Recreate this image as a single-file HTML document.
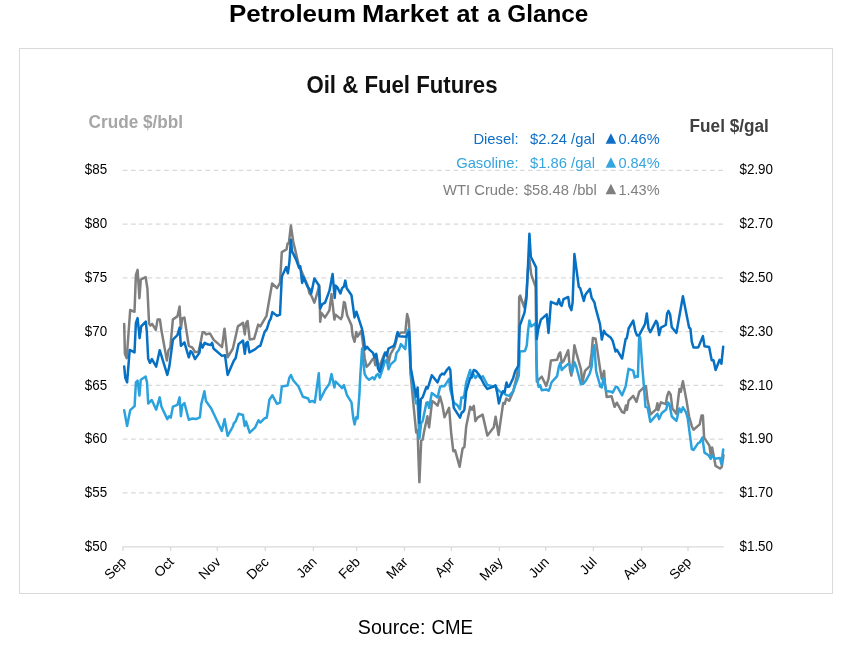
<!DOCTYPE html>
<html><head><meta charset="utf-8"><title>Petroleum Market at a Glance</title>
<style>
html,body{margin:0;padding:0;background:#fff;}
body{width:853px;height:646px;overflow:hidden;position:relative;font-family:"Liberation Sans",sans-serif;}
svg{position:absolute;left:0;top:0;display:block;will-change:transform}
text{font-family:"Liberation Sans",sans-serif;}
</style></head><body>
<svg width="853" height="646" viewBox="0 0 853 646">
<rect x="0" y="0" width="853" height="646" fill="#ffffff"/>
<text x="229.0" y="21.9" font-weight="bold" font-size="24.4" fill="#000" textLength="127.0" lengthAdjust="spacingAndGlyphs">Petroleum</text>
<text x="362.0" y="21.9" font-weight="bold" font-size="24.4" fill="#000" textLength="86.6" lengthAdjust="spacingAndGlyphs">Market</text>
<text x="456.4" y="21.9" font-weight="bold" font-size="24.4" fill="#000" textLength="22.4" lengthAdjust="spacingAndGlyphs">at</text>
<text x="487.2" y="21.9" font-weight="bold" font-size="24.4" fill="#000" textLength="13.0" lengthAdjust="spacingAndGlyphs">a</text>
<text x="507.2" y="21.9" font-weight="bold" font-size="24.4" fill="#000" textLength="81.2" lengthAdjust="spacingAndGlyphs">Glance</text>
<rect x="19.5" y="48.5" width="813" height="545" fill="#fff" stroke="#d9d9d9" stroke-width="1"/>
<text transform="translate(402.00,93.40) scale(1,1.1)" font-size="22.2" font-weight="bold" text-anchor="middle" fill="#111">Oil &amp; Fuel Futures</text>
<text transform="translate(88.60,128.30) scale(1,1.04)" font-size="17.2" font-weight="bold" fill="#a6a6a6">Crude $/bbl</text>
<text transform="translate(689.60,131.60) scale(1,1.05)" font-size="17.2" font-weight="bold" fill="#404040">Fuel $/gal</text>
<line x1="122.7" x2="723.1" y1="170.31" y2="170.31" stroke="#d9d9d9" stroke-width="1.3" stroke-dasharray="4.8 3.471"/>
<line x1="122.7" x2="723.1" y1="224.08" y2="224.08" stroke="#d9d9d9" stroke-width="1.3" stroke-dasharray="4.8 3.471"/>
<line x1="122.7" x2="723.1" y1="277.85" y2="277.85" stroke="#d9d9d9" stroke-width="1.3" stroke-dasharray="4.8 3.471"/>
<line x1="122.7" x2="723.1" y1="331.62" y2="331.62" stroke="#d9d9d9" stroke-width="1.3" stroke-dasharray="4.8 3.471"/>
<line x1="122.7" x2="723.1" y1="385.39" y2="385.39" stroke="#d9d9d9" stroke-width="1.3" stroke-dasharray="4.8 3.471"/>
<line x1="122.7" x2="723.1" y1="439.16" y2="439.16" stroke="#d9d9d9" stroke-width="1.3" stroke-dasharray="4.8 3.471"/>
<line x1="122.7" x2="723.1" y1="492.93" y2="492.93" stroke="#d9d9d9" stroke-width="1.3" stroke-dasharray="4.8 3.471"/>
<line x1="122.4" x2="723.6" y1="546.9" y2="546.9" stroke="#d9d9d9" stroke-width="1.3"/>
<line x1="123" x2="123" y1="546.9" y2="551" stroke="#d9d9d9" stroke-width="1.3"/>
<line x1="170.6" x2="170.6" y1="546.9" y2="551" stroke="#d9d9d9" stroke-width="1.3"/>
<line x1="217.3" x2="217.3" y1="546.9" y2="551" stroke="#d9d9d9" stroke-width="1.3"/>
<line x1="265.3" x2="265.3" y1="546.9" y2="551" stroke="#d9d9d9" stroke-width="1.3"/>
<line x1="313.4" x2="313.4" y1="546.9" y2="551" stroke="#d9d9d9" stroke-width="1.3"/>
<line x1="356.6" x2="356.6" y1="546.9" y2="551" stroke="#d9d9d9" stroke-width="1.3"/>
<line x1="404.5" x2="404.5" y1="546.9" y2="551" stroke="#d9d9d9" stroke-width="1.3"/>
<line x1="451.4" x2="451.4" y1="546.9" y2="551" stroke="#d9d9d9" stroke-width="1.3"/>
<line x1="499.4" x2="499.4" y1="546.9" y2="551" stroke="#d9d9d9" stroke-width="1.3"/>
<line x1="545.6" x2="545.6" y1="546.9" y2="551" stroke="#d9d9d9" stroke-width="1.3"/>
<line x1="593.4" x2="593.4" y1="546.9" y2="551" stroke="#d9d9d9" stroke-width="1.3"/>
<line x1="641.6" x2="641.6" y1="546.9" y2="551" stroke="#d9d9d9" stroke-width="1.3"/>
<line x1="688" x2="688" y1="546.9" y2="551" stroke="#d9d9d9" stroke-width="1.3"/>
<text transform="translate(84.80,173.68) scale(1,1.1)" font-size="13.4" fill="#000">$85</text>
<text transform="translate(739.50,173.68) scale(1,1.1)" font-size="13.4" fill="#000">$2.90</text>
<text transform="translate(84.80,227.64) scale(1,1.1)" font-size="13.4" fill="#000">$80</text>
<text transform="translate(739.50,227.64) scale(1,1.1)" font-size="13.4" fill="#000">$2.70</text>
<text transform="translate(84.80,281.60) scale(1,1.1)" font-size="13.4" fill="#000">$75</text>
<text transform="translate(739.50,281.60) scale(1,1.1)" font-size="13.4" fill="#000">$2.50</text>
<text transform="translate(84.80,335.56) scale(1,1.1)" font-size="13.4" fill="#000">$70</text>
<text transform="translate(739.50,335.56) scale(1,1.1)" font-size="13.4" fill="#000">$2.30</text>
<text transform="translate(84.80,389.52) scale(1,1.1)" font-size="13.4" fill="#000">$65</text>
<text transform="translate(739.50,389.52) scale(1,1.1)" font-size="13.4" fill="#000">$2.10</text>
<text transform="translate(84.80,443.48) scale(1,1.1)" font-size="13.4" fill="#000">$60</text>
<text transform="translate(739.50,443.48) scale(1,1.1)" font-size="13.4" fill="#000">$1.90</text>
<text transform="translate(84.80,497.44) scale(1,1.1)" font-size="13.4" fill="#000">$55</text>
<text transform="translate(739.50,497.44) scale(1,1.1)" font-size="13.4" fill="#000">$1.70</text>
<text transform="translate(84.80,551.40) scale(1,1.1)" font-size="13.4" fill="#000">$50</text>
<text transform="translate(739.50,551.40) scale(1,1.1)" font-size="13.4" fill="#000">$1.50</text>
<text transform="translate(127.20,562.80) scale(1,1.0) rotate(-45.5)" font-size="13.8" text-anchor="end" fill="#000">Sep</text>
<text transform="translate(174.80,562.80) scale(1,1.0) rotate(-45.5)" font-size="13.8" text-anchor="end" fill="#000">Oct</text>
<text transform="translate(221.50,562.80) scale(1,1.0) rotate(-45.5)" font-size="13.8" text-anchor="end" fill="#000">Nov</text>
<text transform="translate(269.50,562.80) scale(1,1.0) rotate(-45.5)" font-size="13.8" text-anchor="end" fill="#000">Dec</text>
<text transform="translate(317.60,562.80) scale(1,1.0) rotate(-45.5)" font-size="13.8" text-anchor="end" fill="#000">Jan</text>
<text transform="translate(360.80,562.80) scale(1,1.0) rotate(-45.5)" font-size="13.8" text-anchor="end" fill="#000">Feb</text>
<text transform="translate(408.70,562.80) scale(1,1.0) rotate(-45.5)" font-size="13.8" text-anchor="end" fill="#000">Mar</text>
<text transform="translate(455.60,562.80) scale(1,1.0) rotate(-45.5)" font-size="13.8" text-anchor="end" fill="#000">Apr</text>
<text transform="translate(503.60,562.80) scale(1,1.0) rotate(-45.5)" font-size="13.8" text-anchor="end" fill="#000">May</text>
<text transform="translate(549.80,562.80) scale(1,1.0) rotate(-45.5)" font-size="13.8" text-anchor="end" fill="#000">Jun</text>
<text transform="translate(597.60,562.80) scale(1,1.0) rotate(-45.5)" font-size="13.8" text-anchor="end" fill="#000">Jul</text>
<text transform="translate(645.80,562.80) scale(1,1.0) rotate(-45.5)" font-size="13.8" text-anchor="end" fill="#000">Aug</text>
<text transform="translate(692.20,562.80) scale(1,1.0) rotate(-45.5)" font-size="13.8" text-anchor="end" fill="#000">Sep</text>
<text transform="translate(518.60,144.00) scale(1,0.985)" font-size="14.8" text-anchor="end" fill="#0f6fc6">Diesel:</text>
<text transform="translate(530.00,144.00) scale(1,0.985)" font-size="14.8" fill="#0f6fc6">$2.24 /gal</text>
<text transform="translate(618.40,144.00) scale(1,1.0)" font-size="14.55" fill="#0f6fc6">0.46%</text>
<path d="M605.6,143.8 L616.2,143.8 L610.9,133.2 Z" fill="#0f6fc6"/>
<text transform="translate(518.60,168.00) scale(1,0.985)" font-size="14.8" text-anchor="end" fill="#35a5dd">Gasoline:</text>
<text transform="translate(530.00,168.00) scale(1,0.985)" font-size="14.8" fill="#35a5dd">$1.86 /gal</text>
<text transform="translate(618.40,168.00) scale(1,1.0)" font-size="14.55" fill="#35a5dd">0.84%</text>
<path d="M605.6,167.8 L616.2,167.8 L610.9,157.2 Z" fill="#35a5dd"/>
<text transform="translate(518.60,194.50) scale(1,0.985)" font-size="14.8" text-anchor="end" fill="#7f7f7f">WTI Crude:</text>
<text transform="translate(523.70,194.50) scale(1,0.985)" font-size="14.8" fill="#7f7f7f">$58.48 /bbl</text>
<text transform="translate(618.40,194.50) scale(1,1.0)" font-size="14.55" fill="#7f7f7f">1.43%</text>
<path d="M605.6,194.3 L616.2,194.3 L610.9,183.7 Z" fill="#7f7f7f"/>
<g fill="none" stroke-linejoin="round" stroke-linecap="round" stroke-width="2.5">
<path d="M124.2,324.1 L124.9,353.8 L126.7,358.2 L130.2,310.0 L134.5,311.8 L135.9,275.2 L137.6,269.9 L139.4,298.2 L140.8,279.6 L145.6,277.0 L147.4,288.5 L149.1,323.8 L150.4,325.5 L152.1,323.8 L155.8,329.9 L157.6,319.4 L159.9,319.4 L161.5,330.8 L166.9,360.5 L168.5,350.2 L170.3,347.6 L172.9,319.4 L177.4,316.4 L179.6,306.5 L180.9,329.1 L182.1,318.5 L184.4,317.6 L188.8,345.8 L192.4,347.6 L195.0,352.0 L198.5,352.0 L200.3,344.1 L202.6,332.2 L204.4,332.2 L206.1,334.4 L210.0,333.5 L213.5,339.6 L222.0,347.1 L224.5,328.7 L227.6,357.3 L232.9,348.5 L237.9,326.4 L243.0,322.9 L244.8,334.4 L246.2,322.9 L247.6,321.1 L249.7,339.6 L254.1,338.8 L258.2,324.6 L260.3,326.4 L266.5,315.8 L272.1,283.5 L277.0,288.2 L280.0,282.9 L281.8,252.1 L286.5,249.4 L287.6,243.6 L288.8,243.6 L290.9,225.6 L293.2,241.5 L295.9,252.9 L298.5,264.4 L301.2,270.6 L303.8,276.8 L307.4,284.7 L309.5,293.5 L311.2,295.3 L314.4,302.7 L317.9,290.9 L319.4,285.6 L320.2,321.8 L321.5,312.9 L325.0,317.4 L329.4,310.3 L331.5,294.1 L334.4,319.6 L335.6,314.7 L340.9,319.1 L342.1,316.5 L343.9,302.0 L344.9,302.7 L347.1,315.2 L351.5,325.3 L352.7,336.2 L354.6,341.8 L356.2,332.1 L357.6,336.5 L361.2,330.9 L362.6,340.6 L364.7,358.2 L366.5,366.7 L369.1,364.4 L372.6,359.1 L374.1,358.2 L375.3,365.3 L376.5,355.6 L378.8,367.9 L380.6,363.5 L384.1,354.7 L386.8,352.1 L388.5,363.5 L390.6,353.8 L394.7,346.8 L397.4,336.2 L400.9,332.6 L405.3,332.6 L407.1,314.1 L408.8,320.3 L410.1,345.9 L410.6,374.1 L413.2,401.8 L416.2,432.6 L417.6,430.0 L418.5,458.2 L419.4,482.1 L421.2,440.6 L422.6,439.7 L424.4,430.0 L427.4,416.2 L429.1,427.4 L432.1,400.9 L434.4,402.6 L437.6,405.6 L440.1,396.5 L442.4,405.3 L444.5,417.3 L449.1,407.9 L451.2,433.5 L453.3,451.2 L455.1,450.3 L459.6,466.7 L462.6,448.5 L464.4,446.8 L466.2,426.5 L470.2,406.7 L472.0,409.7 L473.8,405.8 L475.4,421.2 L477.6,417.6 L482.6,414.6 L487.4,435.6 L493.8,427.3 L495.6,416.7 L498.6,435.1 L500.9,418.8 L503.2,402.9 L504.8,403.8 L506.2,398.5 L509.2,400.8 L513.2,391.5 L515.9,380.0 L517.1,375.3 L518.5,362.9 L519.2,297.4 L520.2,295.6 L524.1,307.1 L526.4,295.6 L528.0,269.1 L529.4,259.4 L531.2,274.4 L535.6,286.8 L536.8,381.5 L539.5,378.8 L541.8,376.7 L546.2,385.9 L548.5,378.8 L550.9,360.6 L557.1,359.8 L558.9,354.1 L560.3,352.4 L561.7,362.9 L563.5,361.2 L568.2,350.2 L570.0,370.0 L571.4,375.6 L573.0,361.2 L574.4,345.3 L576.2,352.4 L580.9,369.1 L582.4,382.4 L585.0,370.9 L589.8,366.1 L591.7,352.4 L592.9,337.9 L595.6,338.8 L597.4,350.6 L600.0,368.2 L601.8,378.8 L604.1,370.9 L604.9,382.9 L606.7,397.1 L611.5,396.2 L614.6,406.8 L616.8,402.7 L622.1,412.1 L624.2,412.9 L625.9,405.5 L627.0,409.9 L628.6,400.6 L633.2,395.8 L636.5,401.8 L639.2,391.8 L643.8,387.4 L645.9,386.1 L647.6,400.6 L650.6,414.4 L656.1,409.4 L657.4,403.2 L658.2,410.3 L660.9,402.4 L665.8,404.1 L667.1,396.2 L668.8,391.8 L670.6,394.4 L672.4,408.5 L676.4,413.8 L679.4,389.1 L680.8,391.8 L682.9,381.2 L686.5,400.6 L689.1,416.5 L691.8,426.2 L693.5,429.7 L699.7,424.4 L701.5,415.6 L702.9,415.6 L704.1,437.6 L709.4,445.6 L710.8,455.3 L712.1,447.4 L713.8,456.2 L715.6,465.9 L720.0,468.5 L721.8,466.8 L723.5,455.3" stroke="#7f7f7f"/>
<path d="M124.2,410.2 L127.1,425.9 L130.2,410.2 L134.6,406.2 L135.9,382.4 L137.6,380.6 L139.4,395.6 L140.8,379.7 L145.6,376.5 L147.0,382.4 L148.2,403.5 L151.8,400.0 L156.2,409.7 L159.7,397.4 L161.5,406.7 L167.3,419.1 L169.1,416.2 L170.8,417.6 L172.9,406.7 L177.4,404.9 L179.6,397.4 L180.9,416.2 L182.3,405.3 L184.4,403.0 L188.8,419.8 L192.4,418.5 L195.9,419.1 L199.9,417.3 L201.2,404.4 L204.4,391.2 L205.9,400.9 L210.9,407.9 L213.5,413.2 L221.8,430.9 L224.6,419.1 L227.6,435.8 L232.9,426.5 L233.8,423.3 L235.6,421.5 L238.6,413.8 L243.0,415.0 L244.6,425.9 L246.0,421.5 L249.7,432.6 L255.0,427.7 L258.5,420.3 L260.3,422.6 L264.7,418.2 L266.8,417.6 L269.4,399.7 L272.4,395.3 L277.0,403.8 L280.0,402.7 L281.8,386.5 L287.6,385.6 L289.4,377.6 L290.9,375.0 L293.2,380.3 L298.5,386.5 L302.9,396.7 L308.2,398.5 L309.6,402.0 L312.3,400.9 L314.8,402.4 L318.8,373.2 L320.2,399.7 L325.0,390.0 L329.4,383.8 L331.5,374.1 L334.4,387.4 L335.6,381.5 L342.1,388.2 L343.9,385.1 L347.1,395.3 L351.5,402.4 L351.5,402.6 L353.2,417.6 L354.6,424.4 L356.2,417.3 L357.6,418.5 L359.4,394.7 L360.3,375.9 L362.1,348.5 L363.3,361.8 L364.7,374.1 L366.5,377.3 L369.1,379.8 L372.6,377.3 L374.4,379.4 L376.5,375.0 L377.9,374.1 L379.7,377.6 L382.4,369.7 L385.0,360.9 L386.8,360.0 L388.5,369.2 L390.6,364.4 L395.1,360.4 L396.5,352.9 L399.1,349.4 L400.9,344.1 L405.3,349.1 L407.1,332.6 L408.8,329.1 L409.7,352.9 L410.6,372.4 L413.2,387.6 L416.2,403.5 L417.6,401.8 L419.4,438.5 L421.2,422.9 L422.6,421.2 L426.5,402.6 L427.7,402.3 L429.1,407.9 L431.8,392.9 L437.6,397.4 L440.1,386.8 L442.4,385.9 L444.5,386.2 L449.1,378.8 L450.3,389.4 L453.8,402.6 L457.4,405.3 L460.0,409.2 L461.4,397.4 L463.0,397.9 L464.4,394.7 L466.2,382.4 L470.2,370.0 L471.5,377.9 L473.2,373.9 L475.4,377.9 L477.6,375.3 L480.3,377.9 L482.9,376.2 L487.4,385.0 L492.4,386.2 L495.5,385.9 L497.6,389.4 L501.2,392.6 L503.8,392.9 L505.6,394.7 L509.1,395.9 L513.2,391.2 L515.3,385.0 L517.1,380.6 L518.8,375.3 L519.7,351.5 L525.0,350.9 L526.8,345.3 L528.0,331.2 L529.4,320.6 L531.2,326.4 L535.6,323.2 L536.5,362.9 L537.4,380.6 L538.7,386.9 L540.3,385.3 L541.7,390.2 L546.2,389.4 L548.5,390.8 L549.7,388.5 L551.5,382.4 L557.1,376.2 L558.9,366.5 L560.3,362.9 L561.7,370.0 L563.5,368.2 L568.2,363.8 L570.0,365.1 L572.1,372.6 L574.4,362.1 L576.2,366.5 L578.8,376.2 L580.9,384.1 L583.2,384.1 L585.9,380.6 L589.8,373.5 L591.7,366.5 L592.9,351.5 L594.4,345.3 L596.1,370.9 L597.4,376.2 L600.0,385.0 L600.0,386.5 L601.8,387.4 L603.5,378.0 L606.2,390.9 L611.5,391.8 L612.7,392.6 L615.9,386.5 L617.6,387.4 L622.1,395.3 L625.6,386.5 L626.8,379.4 L628.6,368.8 L633.2,370.6 L634.8,377.6 L636.5,376.2 L637.9,376.8 L639.2,336.5 L640.2,337.4 L642.4,368.2 L643.2,377.6 L645.5,406.8 L647.6,407.6 L650.3,421.8 L657.4,413.8 L659.1,419.1 L661.8,412.9 L666.2,409.4 L667.9,402.4 L669.4,404.1 L671.8,416.5 L676.4,420.9 L679.4,408.5 L681.2,412.1 L682.9,407.3 L685.9,412.1 L687.7,418.2 L689.1,428.8 L691.8,449.1 L693.5,450.0 L698.3,442.9 L699.7,442.6 L702.4,437.6 L704.5,452.6 L708.5,455.3 L710.8,458.8 L712.1,455.3 L714.7,458.8 L720.0,457.9 L721.4,464.1 L723.2,449.5" stroke="#2ba2dd"/>
<path d="M124.2,366.5 L125.3,377.9 L127.1,382.4 L129.7,349.9 L134.5,352.4 L135.9,322.9 L137.6,318.1 L139.6,338.2 L141.2,326.4 L145.8,321.6 L146.8,331.7 L148.2,358.7 L150.0,362.9 L151.9,359.1 L156.2,366.6 L159.7,350.2 L167.3,374.9 L169.4,366.1 L172.9,339.6 L177.4,335.2 L179.6,327.6 L180.9,345.8 L184.4,342.3 L188.8,357.3 L190.6,351.1 L192.4,352.9 L195.0,359.1 L199.4,352.9 L200.8,343.2 L202.6,347.6 L204.7,342.8 L208.2,344.6 L210.9,344.9 L212.1,342.8 L213.5,348.5 L222.0,355.9 L225.0,355.2 L227.6,374.9 L233.8,360.8 L235.6,358.2 L238.6,344.1 L243.0,340.5 L244.8,353.8 L246.2,343.2 L247.6,341.8 L249.4,352.4 L255.0,349.4 L258.5,346.4 L260.3,345.8 L264.7,331.7 L266.8,329.1 L269.4,320.9 L270.6,319.1 L272.4,312.1 L277.0,315.9 L280.0,314.7 L281.8,276.8 L286.2,267.1 L287.9,273.2 L289.4,261.8 L290.9,239.7 L292.0,251.2 L295.9,259.1 L299.1,267.9 L300.3,266.2 L302.1,282.9 L303.3,276.8 L307.4,286.5 L309.6,289.1 L311.2,293.5 L314.4,278.5 L318.8,285.2 L320.2,308.5 L322.4,304.1 L325.0,302.7 L329.4,290.9 L332.6,274.1 L334.7,297.9 L335.6,285.6 L337.4,287.4 L340.4,293.5 L342.1,288.2 L343.9,286.5 L345.3,280.6 L346.7,288.2 L351.5,295.3 L354.5,317.4 L356.4,311.7 L362.1,329.1 L363.8,338.8 L365.1,349.4 L367.0,346.8 L369.1,349.4 L373.0,352.9 L374.4,357.4 L376.2,353.8 L377.9,367.9 L379.7,372.0 L382.4,362.6 L385.0,352.6 L386.8,355.6 L388.5,348.5 L393.8,345.9 L395.2,342.4 L396.5,336.2 L397.7,332.1 L399.1,336.2 L406.2,336.7 L407.9,333.5 L409.2,331.8 L410.1,352.9 L410.6,367.1 L414.1,385.9 L416.2,396.5 L417.6,387.6 L419.4,422.9 L420.8,399.1 L422.6,397.4 L426.5,386.8 L427.7,388.5 L431.8,375.3 L437.6,382.4 L440.1,375.6 L442.4,373.5 L444.1,374.4 L446.8,370.0 L449.1,367.4 L450.3,370.0 L451.5,387.6 L453.8,407.9 L460.0,417.6 L461.8,412.4 L463.0,412.0 L464.4,409.7 L466.2,391.2 L470.2,377.9 L471.5,377.1 L473.8,370.0 L475.9,370.9 L479.4,375.3 L484.4,385.0 L487.4,388.9 L492.4,387.1 L495.5,385.4 L497.1,392.1 L498.9,403.5 L500.8,396.5 L502.9,391.2 L504.7,392.1 L506.5,382.4 L507.9,386.8 L509.1,386.8 L513.2,377.9 L515.3,370.9 L518.5,365.6 L519.2,340.0 L519.7,325.9 L524.5,312.6 L526.4,299.1 L528.0,265.6 L529.4,233.8 L530.8,256.8 L536.1,267.4 L536.8,339.1 L538.2,329.4 L540.9,319.7 L546.7,314.4 L548.5,332.9 L549.7,317.9 L550.9,301.8 L557.1,304.4 L558.9,299.1 L560.3,304.4 L561.7,305.8 L563.5,299.1 L568.2,297.0 L569.5,306.2 L571.4,310.1 L572.6,302.6 L574.4,254.1 L578.8,286.8 L580.2,288.2 L583.8,300.9 L585.4,294.7 L589.8,288.9 L591.7,297.9 L594.4,302.3 L595.6,307.9 L600.0,324.1 L601.8,339.6 L603.9,330.8 L605.6,333.8 L610.6,337.4 L612.7,340.9 L615.5,351.5 L616.8,349.7 L622.1,358.5 L625.6,339.1 L626.8,338.2 L628.6,328.5 L633.2,320.6 L635.3,331.2 L637.1,335.6 L639.2,335.1 L645.0,324.1 L646.8,313.5 L648.5,328.5 L650.3,332.1 L656.1,320.9 L657.4,323.2 L659.1,335.1 L660.9,327.6 L665.8,325.0 L667.1,313.5 L668.5,310.9 L670.1,314.4 L671.8,327.3 L676.4,332.9 L682.9,296.2 L689.1,327.6 L690.4,328.5 L691.8,341.8 L693.5,347.4 L698.3,347.4 L702.9,336.1 L704.5,346.2 L709.1,347.1 L711.7,360.3 L713.5,360.3 L715.6,370.0 L719.6,359.8 L721.4,363.8 L723.2,346.7" stroke="#0670c3"/>
</g>
<text x="357.8" y="634" font-size="19.6" fill="#000" textLength="67.6" lengthAdjust="spacingAndGlyphs">Source:</text>
<text x="431.6" y="634" font-size="19.6" fill="#000" textLength="41.4" lengthAdjust="spacingAndGlyphs">CME</text>
</svg></body></html>
